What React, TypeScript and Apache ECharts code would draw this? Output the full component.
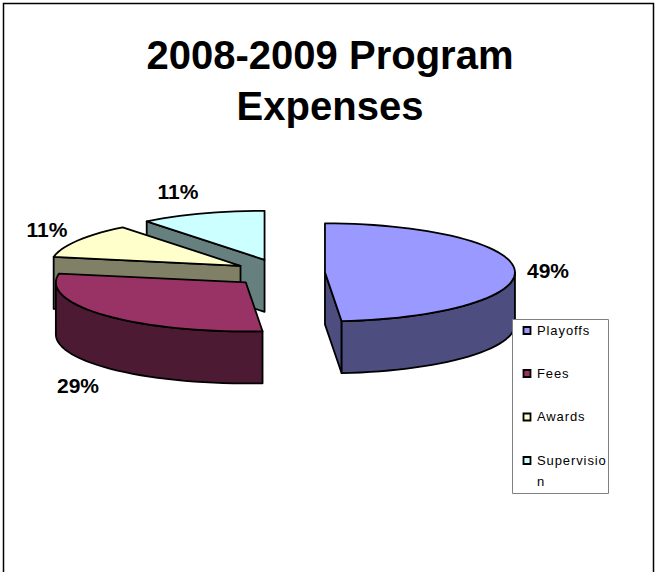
import React, { useEffect, useRef } from "react";
import * as echarts from "echarts";

const titleText = "2008-2009 Program\nExpenses";
const categories = ["Playoffs", "Fees", "Awards", "Supervision"];
const legendLabels = ["Playoffs", "Fees", "Awards", "Supervisio\nn"];
const values = [48.6, 29.3, 11.45, 10.65];
const topColors = ["#9999FF", "#993366", "#FFFFCC", "#CCFFFF"];
const wallColors = ["#4D4D80", "#4D1A33", "#808066", "#668080"];
const paintOrder = [4, 3, 2, 1];
const labelPositions = [
  [548, 270],
  [78, 385],
  [47, 229],
  [178, 191],
];
const legendRowY = [330.5, 373.5, 417, 460.5];

const CX = 279.5;
const CY = 273;
const RX = 190;
const RY = 49;
const DEPTH = 52;
const EXPLODE_X = 45.5;
const EXPLODE_Y = 14;
const STROKE = { stroke: "#000", lineWidth: 1.8, lineJoin: "round" };

const total = values.reduce((a, b) => a + b, 0);
const rad = (d: number) => (d * Math.PI) / 180;

function sliceAngles(index: number) {
  let start = 0;
  for (let i = 0; i < index; i++) start += (values[i] / total) * 360;
  return [start, start + (values[index] / total) * 360];
}

function arcPoints(cx: number, cy: number, a0: number, a1: number) {
  const pts: number[][] = [];
  const steps = Math.max(2, Math.ceil(Math.abs(a1 - a0) / 3));
  for (let i = 0; i <= steps; i++) {
    const a = rad(a0 + ((a1 - a0) * i) / steps);
    pts.push([cx + RX * Math.sin(a), cy - RY * Math.cos(a)]);
  }
  return pts;
}

function renderSlice(index: number) {
  return () => {
    const [a0, a1] = sliceAngles(index);
    const mid = rad((a0 + a1) / 2);
    const cx = CX + EXPLODE_X * Math.sin(mid);
    const cy = CY - EXPLODE_Y * Math.cos(mid);
    const children: any[] = [];
    const wallStyle = { fill: wallColors[index], ...STROKE };
    const radialWall = (a: number) => {
      const [p] = arcPoints(cx, cy, a, a + 1);
      children.push({
        type: "polygon",
        shape: {
          points: [
            [cx, cy],
            p,
            [p[0], p[1] + DEPTH],
            [cx, cy + DEPTH],
          ],
        },
        style: wallStyle,
      });
    };
    if (Math.sin(rad(a0)) < -1e-6) radialWall(a0);
    if (Math.sin(rad(a1)) > 1e-6) radialWall(a1);
    const f0 = Math.max(a0, 90);
    const f1 = Math.min(a1, 270);
    if (f1 > f0) {
      const upper = arcPoints(cx, cy, f0, f1);
      const lower = upper.map((p) => [p[0], p[1] + DEPTH]).reverse();
      children.push({
        type: "polygon",
        shape: { points: [...upper, ...lower] },
        style: wallStyle,
      });
    }
    children.push({
      type: "polygon",
      shape: { points: [[cx, cy], ...arcPoints(cx, cy, a0, a1)] },
      style: { fill: topColors[index], ...STROKE },
    });
    children.push({
      type: "text",
      style: {
        text: `${Math.round((values[index] / total) * 100)}%`,
        x: labelPositions[index][0],
        y: labelPositions[index][1],
        align: "center",
        verticalAlign: "middle",
        fontFamily: "Liberation Sans",
        fontWeight: "bold",
        fontSize: 21,
        fill: "#000",
      },
    });
    return { type: "group", children };
  };
}

export default function App() {
  const ref = useRef<HTMLDivElement>(null);
  useEffect(() => {
    document.body.style.margin = "0";
    const chart = echarts.init(ref.current!, null, { renderer: "svg" });
    chart.setOption({
      animation: false,
      backgroundColor: "#fff",
      title: {
        text: titleText,
        left: 325,
        top: 24,
        textAlign: "center",
        textStyle: {
          fontFamily: "Liberation Sans",
          fontWeight: "bold",
          fontSize: 40,
          lineHeight: 51,
          color: "#000",
        },
      },
      series: categories.map((name, i) => ({
        type: "custom",
        name,
        coordinateSystem: "none",
        z: paintOrder[i],
        silent: true,
        data: [[values[i]]],
        renderItem: renderSlice(i),
      })),
      graphic: [
        {
          type: "polyline",
          shape: {
            points: [
              [3.5, 600],
              [3.5, 3.5],
              [653.5, 3.5],
              [653.5, 600],
            ],
          },
          style: { stroke: "#000", lineWidth: 1.5, fill: "none" },
          z: 0,
        },
        {
          type: "rect",
          shape: { x: 512.5, y: 319.5, width: 96, height: 174 },
          style: { fill: "#fff", stroke: "#808080", lineWidth: 1 },
          z: 10,
        },
        ...categories.flatMap((_, i) => [
          {
            type: "rect",
            shape: { x: 523.5, y: legendRowY[i] - 3.5, width: 7, height: 7 },
            style: { fill: topColors[i], stroke: "#000", lineWidth: 1.8 },
            z: 11,
          },
          {
            type: "text",
            style: {
              text: legendLabels[i],
              x: 537,
              y: legendRowY[i] - 11,
              fontFamily: "Liberation Sans",
              fontSize: 13,
              lineHeight: 21,
              fill: "#000",
            },
            z: 11,
          },
        ]),
      ],
    });
    const legendLines = legendLabels.flatMap((l) => l.split("\n"));
    ref.current!.querySelectorAll("text").forEach((t) => {
      if (legendLines.includes(t.textContent || "")) {
        (t as SVGTextElement).style.letterSpacing = "0.9px";
      }
    });
    return () => chart.dispose();
  }, []);
  return (
    <div
      ref={ref}
      style={{ position: "absolute", left: 0, top: 0, width: 655, height: 572 }}
    />
  );
}
